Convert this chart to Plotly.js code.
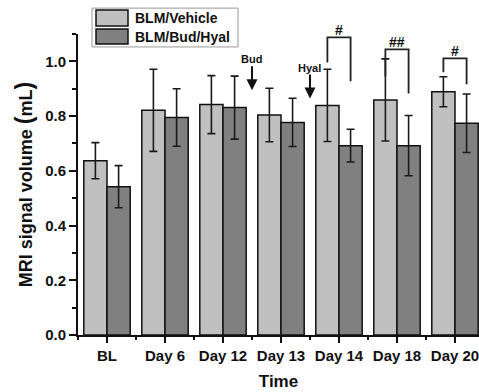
<!DOCTYPE html>
<html>
<head>
<meta charset="utf-8">
<script src="https://cdn.plot.ly/plotly-3.0.1.min.js"></script>
<style>html,body{margin:0;padding:0;background:#fff;}#chart{width:479px;height:392px;}</style>
</head>
<body>
<div id="chart"></div>
<script>
// ---- data ----
var categories = ["BL", "Day 6", "Day 12", "Day 13", "Day 14", "Day 18", "Day 20"];
var seriesNames = ["BLM/Vehicle", "BLM/Bud/Hyal"];
var vehicleMean = [0.637, 0.821, 0.842, 0.804, 0.839, 0.859, 0.889];
var vehicleErr  = [0.066, 0.150, 0.106, 0.098, 0.132, 0.150, 0.055];
var budMean     = [0.542, 0.795, 0.831, 0.777, 0.692, 0.692, 0.774];
var budErr      = [0.077, 0.105, 0.115, 0.088, 0.060, 0.110, 0.107];
var yTickVals   = [0.0, 0.2, 0.4, 0.6, 0.8, 1.0];
var yTickText   = ["0.0", "0.2", "0.4", "0.6", "0.8", "1.0"];
// significance brackets: category, label, top, left leg bottom, right leg bottom
var sigCategory = ["Day 14", "Day 18", "Day 20"];
var sigLabel    = ["#", "##", "#"];
var sigTop      = [1.088, 1.044, 1.011];
var sigLeftEnd  = [0.996, 0.945, 0.960];
var sigRightEnd = [0.927, 0.883, 0.916];
// treatment arrows: placed between categories
var arrowLabel  = ["Bud", "Hyal"];
var arrowAfter  = ["Day 12", "Day 13"];
var arrowTip    = [0.894, 0.864];

var colors = ["#c0c0c0", "#808080"];
var idx = categories.map(function (c, i) { return i; });
var offset = 0.2; // half of one bar's width in category units

var barCommon = {
  type: "bar",
  x: idx,
  showlegend: false,
  hoverinfo: "skip"
};
var t1 = Object.assign({}, barCommon, {
  name: seriesNames[0], y: vehicleMean,
  marker: {color: colors[0], line: {color: "#111", width: 1.5}},
  error_y: {type: "data", array: vehicleErr, visible: true, color: "#1a1a1a", thickness: 1.6, width: 4}
});
var t2 = Object.assign({}, barCommon, {
  name: seriesNames[1], y: budMean,
  marker: {color: colors[1], line: {color: "#111", width: 1.5}},
  error_y: {type: "data", array: budErr, visible: true, color: "#1a1a1a", thickness: 1.6, width: 4}
});

var fontFam = "Liberation Sans, Arial, sans-serif";
var shapes = [];
var annotations = [];

sigCategory.forEach(function (c, k) {
  var i = categories.indexOf(c);
  var xl = i - offset, xr = i + offset;
  shapes.push({
    type: "path", xref: "x", yref: "y",
    path: "M " + xl + " " + sigLeftEnd[k] + " L " + xl + " " + sigTop[k] +
          " L " + xr + " " + sigTop[k] + " L " + xr + " " + sigRightEnd[k],
    line: {color: "#222", width: 1.8}
  });
  annotations.push({
    x: i, y: sigTop[k], xref: "x", yref: "y", text: sigLabel[k],
    showarrow: false, yanchor: "bottom", yshift: -3,
    font: {family: fontFam, size: 14, color: "#111", weight: "bold"}
  });
});

arrowLabel.forEach(function (lab, k) {
  var i = categories.indexOf(arrowAfter[k]) + 0.5;
  annotations.push({
    x: i, y: arrowTip[k], xref: "x", yref: "y", text: lab,
    showarrow: true, ax: 0, ay: -24, arrowhead: 2, arrowsize: 1.1, arrowwidth: 2,
    arrowcolor: "#111", yanchor: "bottom", borderpad: 0,
    font: {family: fontFam, size: 11, color: "#111", weight: "bold"}
  });
});

// legend (drawn by hand to get large swatches)
shapes.push({type: "rect", xref: "paper", yref: "paper", x0: 0.035, x1: 0.399, y0: 0.957, y1: 1.086,
  line: {color: "#999", width: 1}, fillcolor: "rgba(255,255,255,0)"});
var swY = [[1.0266, 1.0797], [0.9668, 1.0166]];
var txY = [1.053, 0.990];
seriesNames.forEach(function (n, k) {
  shapes.push({type: "rect", xref: "paper", yref: "paper", x0: 0.0449, x1: 0.1247,
    y0: swY[k][0], y1: swY[k][1], fillcolor: colors[k], line: {color: "#111", width: 1.5}});
  annotations.push({xref: "paper", yref: "paper", x: 0.137, y: txY[k], text: n,
    showarrow: false, xanchor: "left", yanchor: "middle",
    font: {family: fontFam, size: 14, color: "#111", weight: "bold"}});
});

var layout = {
  width: 479, height: 392,
  margin: {l: 78, r: 0, t: 34, b: 57},
  paper_bgcolor: "#fff", plot_bgcolor: "#fff",
  barmode: "group", bargap: 0.2, bargroupgap: 0,
  font: {family: fontFam, color: "#111"},
  xaxis: {
    range: [-0.5, 6.414], tickvals: idx, ticktext: categories,
    showgrid: false, zeroline: false, showline: true, linecolor: "#111", linewidth: 2,
    ticks: "outside", ticklen: 6, tickwidth: 2, tickcolor: "#111",
    minor: {tick0: 0.5, dtick: 1, ticks: "outside", ticklen: 3, tickwidth: 2, tickcolor: "#111", showgrid: false},
    tickfont: {family: fontFam, size: 15, color: "#111", weight: "bold"},
    ticklabeloverflow: "allow",
    title: {text: "Time", font: {family: fontFam, size: 17, color: "#111", weight: "bold"}, standoff: 12},
    automargin: false, fixedrange: true
  },
  yaxis: {
    range: [0, 1.1], tickvals: yTickVals, ticktext: yTickText,
    showgrid: false, zeroline: false, showline: true, linecolor: "#111", linewidth: 2,
    ticks: "outside", ticklen: 7, tickwidth: 2, tickcolor: "#111",
    minor: {tick0: 0.1, dtick: 0.2, ticks: "outside", ticklen: 4, tickwidth: 2, tickcolor: "#111", showgrid: false},
    tickfont: {family: fontFam, size: 15, color: "#111", weight: "bold"},
    title: {text: "MRI signal volume <span style=\"font-size:23px\">(</span>mL<span style=\"font-size:23px\">)</span>",
            font: {family: fontFam, size: 18, color: "#111", weight: "bold"}, standoff: 8},
    automargin: false, fixedrange: true
  },
  shapes: shapes,
  annotations: annotations
};

Plotly.newPlot("chart", [t1, t2], layout, {displayModeBar: false, staticPlot: true});
</script>
</body>
</html>
